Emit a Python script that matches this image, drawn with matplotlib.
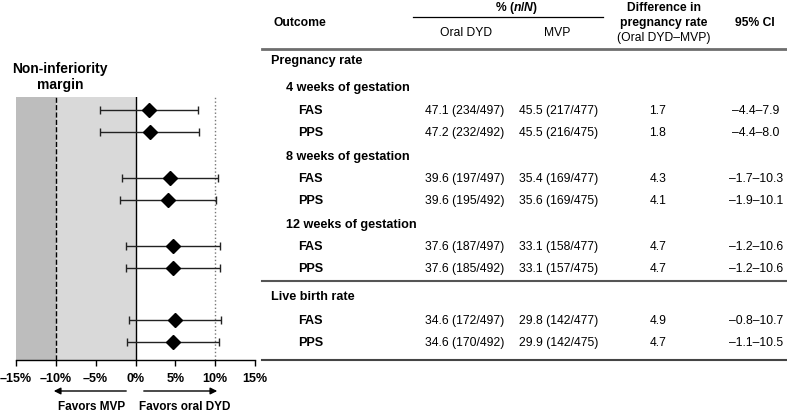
import matplotlib.pyplot as plt

plt.rcParams['font.family'] = ['Liberation Sans', 'DejaVu Sans']
plt.rcParams['mathtext.fontset'] = 'custom'
plt.rcParams['mathtext.it'] = 'Liberation Sans:italic:bold'
plt.rcParams['mathtext.rm'] = 'Liberation Sans:bold'

# ---- data ----
section_labels = ["Pregnancy rate", "Live birth rate"]
subgroup_labels = ["4 weeks of gestation", "8 weeks of gestation", "12 weeks of gestation"]
populations = ["FAS", "PPS", "FAS", "PPS", "FAS", "PPS", "FAS", "PPS"]
oral_pct = [47.1, 47.2, 39.6, 39.6, 37.6, 37.6, 34.6, 34.6]
oral_n = [234, 232, 197, 195, 187, 185, 172, 170]
oral_N = [497, 492, 497, 492, 497, 492, 497, 492]
mvp_pct = [45.5, 45.5, 35.4, 35.6, 33.1, 33.1, 29.8, 29.9]
mvp_n = [217, 216, 169, 169, 158, 157, 142, 142]
mvp_N = [477, 475, 477, 475, 477, 475, 477, 475]
diff = [1.7, 1.8, 4.3, 4.1, 4.7, 4.7, 4.9, 4.7]
ci_lo = [-4.4, -4.4, -1.7, -1.9, -1.2, -1.2, -0.8, -1.1]
ci_hi = [7.9, 8.0, 10.3, 10.1, 10.6, 10.6, 10.7, 10.5]
xticks = [-15, -10, -5, 0, 5, 10, 15]
margin = -10

# ---- layout (pixel rows, figure is 787x414) ----
W, H = 787, 414
row_y = [111, 133, 179, 201, 247, 269, 321, 343]
section_y = [61, 297]
subgroup_y = [88, 157, 225]
ax_left, ax_right, ax_top, ax_bottom = 16, 255, 98, 361

fig = plt.figure(figsize=(W / 100, H / 100), dpi=100)

# overlay in pixel coordinates for table and annotations
ov = fig.add_axes([0, 0, 1, 1])
ov.set_xlim(0, W)
ov.set_ylim(H, 0)
ov.set_axis_off()

fs = 8.7   # table body / header
fl = 9.1   # bold row labels
# header
ov.text(273, 23, "Outcome", fontsize=fs, fontweight='bold', va='center')
ov.text(517, 8, r"% ($\it{n/N}$)", fontsize=fs, fontweight='bold', ha='center', va='center')
ov.plot([413, 603], [18, 18], color='black', lw=0.9)
ov.text(466, 33, "Oral DYD", fontsize=fs, ha='center', va='center')
ov.text(557, 33, "MVP", fontsize=fs, ha='center', va='center')
ov.text(664, 8, "Difference in", fontsize=fs, fontweight='bold', ha='center', va='center')
ov.text(664, 23, "pregnancy rate", fontsize=fs, fontweight='bold', ha='center', va='center')
ov.text(664, 38.5, "(Oral DYD\u2013MVP)", fontsize=fs, ha='center', va='center')
ov.text(755, 23, "95% CI", fontsize=fs, fontweight='bold', ha='center', va='center')
ov.plot([262, W], [50, 50], color='#6e6e6e', lw=2)
ov.plot([262, W], [282, 282], color='#555555', lw=1.5)
ov.plot([262, W], [361, 361], color='#444444', lw=1.5)

for lab, y in zip(section_labels, section_y):
    ov.text(271, y, lab, fontsize=fl, fontweight='bold', va='center')
for lab, y in zip(subgroup_labels, subgroup_y):
    ov.text(286, y, lab, fontsize=fl, fontweight='bold', va='center')

def dash(v):
    return ("\u2013%.1f" % -v) if v < 0 else "%.1f" % v

for i, y in enumerate(row_y):
    ov.text(298, y, populations[i], fontsize=fl, fontweight='bold', va='center')
    ov.text(465, y, "%.1f (%d/%d)" % (oral_pct[i], oral_n[i], oral_N[i]), fontsize=fs, ha='center', va='center')
    ov.text(559, y, "%.1f (%d/%d)" % (mvp_pct[i], mvp_n[i], mvp_N[i]), fontsize=fs, ha='center', va='center')
    ov.text(658, y, "%.1f" % diff[i], fontsize=fs, ha='center', va='center')
    ov.text(756, y, dash(ci_lo[i]) + "\u2013" + dash(ci_hi[i]), fontsize=fs, ha='center', va='center')

# forest annotations
ov.text(60, 69, "Non-inferiority", fontsize=10, fontweight='bold', ha='center', va='center')
ov.text(60, 85, "margin", fontsize=10, fontweight='bold', ha='center', va='center')
ov.annotate('', xy=(51, 392), xytext=(129, 392),
            arrowprops=dict(arrowstyle='-|>', color='black', lw=1, mutation_scale=10))
ov.annotate('', xy=(220, 392), xytext=(141, 392),
            arrowprops=dict(arrowstyle='-|>', color='black', lw=1, mutation_scale=10))
ov.text(92, 407, "Favors MVP", fontsize=8.5, fontweight='bold', ha='center', va='center')
ov.text(185, 407, "Favors oral DYD", fontsize=8.5, fontweight='bold', ha='center', va='center')

# forest axes
ax = fig.add_axes([ax_left / W, 1 - ax_bottom / H, (ax_right - ax_left) / W, (ax_bottom - ax_top) / H])
ax.set_xlim(xticks[0], xticks[-1])
ax.set_ylim(ax_bottom, ax_top)
ax.axvspan(xticks[0], margin, color='#bdbdbd', lw=0)
ax.axvspan(margin, 0, color='#d9d9d9', lw=0)
ax.axvline(margin, color='black', ls='--', lw=1)
ax.axvline(0, color='black', lw=1)
ax.axvline(-margin, color='#777777', ls=':', lw=1)

xerr = [[d - lo for d, lo in zip(diff, ci_lo)], [hi - d for d, hi in zip(diff, ci_hi)]]
ax.errorbar(diff, row_y, xerr=xerr, fmt='D', color='black', ecolor='#222222',
            elinewidth=1, capsize=3, capthick=1, markersize=7, zorder=3)

for s in ['top', 'left', 'right']:
    ax.spines[s].set_visible(False)
ax.spines['bottom'].set_linewidth(1)
ax.set_yticks([])
ax.set_xticks(xticks)
ax.set_xticklabels([("\u2013%d%%" % -t) if t < 0 else "%d%%" % t for t in xticks],
                   fontsize=9, fontweight='bold')
ax.tick_params(axis='x', length=4, width=1, pad=5)

fig.savefig("out.png", dpi=100)
